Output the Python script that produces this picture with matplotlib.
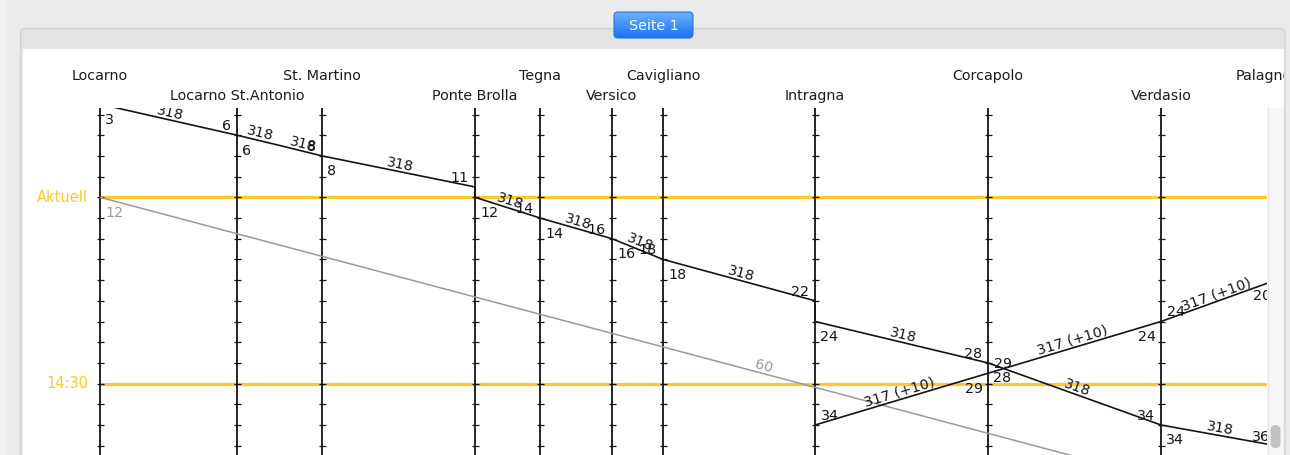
import math
import numpy as np
import matplotlib
matplotlib.use("Agg")
import matplotlib.pyplot as plt
from matplotlib.patches import Rectangle, FancyBboxPatch
from matplotlib.transforms import blended_transform_factory

# ---------------- data ----------------
stations = ["Locarno", "Locarno St.Antonio", "Solduno", "St. Martino", "Ponte Brolla",
            "Tegna", "Versico", "Cavigliano", "Intragna", "Corcapolo", "Verdasio",
            "Palagnedra", "Camedo"]
station_pos = [100, 237, 280, 322, 475, 540, 612, 663, 815, 988, 1161, 1276, 1424]
station_shown = [True, True, False, True, True, True, True, True, True, True, True, True, False]

# train 318 (towards Camedo), minutes after 14:00
t318_stops = ["Locarno", "Locarno St.Antonio", "Solduno", "St. Martino", "Ponte Brolla", "Tegna",
              "Versico", "Cavigliano", "Intragna", "Corcapolo", "Verdasio", "Palagnedra"]
t318_arr = [None, 6, 7, 8, 11, 14, 16, 18, 22, 28, 34, 36]
t318_dep = [3, 6, 7, 8, 12, 14, 16, 18, 24, 28, 34, None]

# train 317 (towards Locarno), delayed +10
t317_stops = ["Palagnedra", "Verdasio", "Corcapolo", "Intragna"]
t317_arr = [None, 24, 29, 34]
t317_dep = [20, 24, 29, None]

# train 60 (grey)
t60_stops = ["Locarno", "Camedo"]
t60_arr = [None, 46]
t60_dep = [12, None]

marker_labels = ["Aktuell", "14:30"]
marker_minutes = [12, 30]

page_label = "Seite 1"

# ---------------- layout ----------------
W, H, DPI = 1290, 455, 100
PX_PER_MIN = 10.35
Y_REF_PX, M_REF = 197.3, 12
PLOT_TOP, PLOT_L, PLOT_R = 108, 23, 1267
FS = 10.3
GOLD = "#fcc82a"
INK = "#141414"
GREY = "#9a9a9a"

m_top = M_REF - (Y_REF_PX - PLOT_TOP) / PX_PER_MIN
m_bot = M_REF + (H - Y_REF_PX) / PX_PER_MIN
pos = dict(zip(stations, station_pos))
shown = dict(zip(stations, station_shown))

fig = plt.figure(figsize=(W / DPI, H / DPI), dpi=DPI)

# ---- window chrome (background) ----
bg = fig.add_axes([0, 0, 1, 1])
bg.axis("off")
bg.add_patch(Rectangle((0, 0), W, H, color="#ececec"))
bg.add_patch(Rectangle((0, 0), 6, H, color="#f2f2f2"))
bg.add_patch(FancyBboxPatch((20.5, 28.5), 1265, 470, boxstyle="round,pad=0,rounding_size=5",
                            fc="#e3e3e3", ec="#d3d3d3", lw=1))
bg.add_patch(Rectangle((23, 49), 1261, 430, color="white"))
btn = FancyBboxPatch((614, 12), 79, 26, boxstyle="round,pad=0,rounding_size=4",
                     fc="none", ec="#2a74e0", lw=0.8, zorder=3)
bg.add_patch(btn)
grad = np.linspace(0, 1, 64)[:, None]
c_top = np.array([0.42, 0.70, 1.0])
c_bot = np.array([0.10, 0.44, 0.95])
img = c_top[None, None, :] * (1 - grad[..., None]) + c_bot[None, None, :] * grad[..., None]
img = np.repeat(img, 4, axis=1)
im = bg.imshow(img, extent=[614, 693, 38, 12], origin="upper", aspect="auto", zorder=2)
im.set_clip_path(btn)
bg.text(653.5, 25.5, page_label, ha="center", va="center", color="white", fontsize=10.3, zorder=4)
bg.set_xlim(0, W)
bg.set_ylim(H, 0)

# ---- plot area ----
ax = fig.add_axes([PLOT_L / W, 0, (PLOT_R - PLOT_L) / W, (H - PLOT_TOP) / H])
ax.set_xlim(PLOT_L, PLOT_R)
ax.set_ylim(m_bot, m_top)
ax.axis("off")

P2PT = 72.0 / DPI  # pixels -> points

# station lines + ticks
tick_minutes = np.arange(4, 37, 2)
for name in stations:
    if not shown[name]:
        continue
    x = pos[name]
    ax.vlines(x, m_bot, m_top, color=INK, lw=1.3, zorder=2)
    ax.plot(np.full(len(tick_minutes), x), tick_minutes, ls="none", marker="_",
            ms=7 * P2PT, mew=0.9, color=INK, zorder=2)

# station names (two alternating rows), drawn in the plot axes so the overlay can cut them
name_tr = blended_transform_factory(ax.transData, fig.transFigure)
row = 0
for name in stations:
    if not shown[name]:
        continue
    y_px = 80 if row == 0 else 100
    ax.text(pos[name], 1 - y_px / H, name, transform=name_tr, ha="center", va="baseline",
            fontsize=FS, color="#1c1c1c", clip_on=False)
    row = 1 - row

# time marker lines
ax.hlines(marker_minutes, station_pos[0], PLOT_R, color=GOLD, lw=2.3, zorder=1)
for lab, m in zip(marker_labels, marker_minutes):
    ax.text(88, m, lab, ha="right", va="center", color=GOLD, fontsize=10.5)


def fmt(v):
    return f"{v:g}"


def draw_train(stops, arr, dep, color, seg_label, lw):
    xs, ys = [], []
    for s, a, d in zip(stops, arr, dep):
        if a is not None:
            xs.append(pos[s]); ys.append(a)
        if d is not None:
            xs.append(pos[s]); ys.append(d)
    ax.plot(xs, ys, color=color, lw=lw, zorder=3, solid_capstyle="butt")
    direc = 1 if pos[stops[-1]] > pos[stops[0]] else -1
    # stop labels
    for s, a, d in zip(stops, arr, dep):
        if not shown[s]:
            continue
        x = pos[s]
        if a is not None:
            ax.annotate(fmt(a), (x, a), xytext=(-6 * direc * P2PT, 5 * P2PT),
                        textcoords="offset points", ha="right" if direc > 0 else "left",
                        va="baseline", fontsize=FS, color=color, zorder=4,
                        annotation_clip=False, clip_on=True)
        if d is not None:
            ax.annotate(fmt(d), (x, d), xytext=(5 * direc * P2PT, -8.5 * P2PT),
                        textcoords="offset points", ha="left" if direc > 0 else "right",
                        va="top", fontsize=FS, color=color, zorder=4,
                        annotation_clip=False, clip_on=True)
    # segment labels
    for i in range(len(stops) - 1):
        x0, y0 = pos[stops[i]], dep[i]
        x1, y1 = pos[stops[i + 1]], arr[i + 1]
        p0 = ax.transData.transform((x0, y0))
        p1 = ax.transData.transform((x1, y1))
        ang = math.degrees(math.atan2(p1[1] - p0[1], p1[0] - p0[0]))
        if ang > 90:
            ang -= 180
        elif ang < -90:
            ang += 180
        r = math.radians(ang)
        off = 3.0
        nx, ny = -math.sin(r) * off, math.cos(r) * off
        ax.annotate(seg_label, ((x0 + x1) / 2, (y0 + y1) / 2), xytext=(nx * P2PT, ny * P2PT),
                    textcoords="offset points", ha="center", va="baseline", rotation=ang,
                    rotation_mode="anchor", fontsize=FS, color=color, zorder=4,
                    annotation_clip=False, clip_on=True)


draw_train(t60_stops, t60_arr, t60_dep, GREY, "60", 1.1)
draw_train(t318_stops, t318_arr, t318_dep, INK, "318", 1.2)
draw_train(t317_stops, t317_arr, t317_dep, INK, "317 (+10)", 1.2)

# ---- overlay chrome (scrollbar, right border) ----
ov = fig.add_axes([0, 0, 1, 1])
ov.axis("off")
ov.set_xlim(0, W)
ov.set_ylim(H, 0)
ov.add_patch(Rectangle((PLOT_R, PLOT_TOP), 1284 - PLOT_R, H - PLOT_TOP, fc="#f7f7f7", ec="none"))
ov.plot([PLOT_R + 0.5, PLOT_R + 0.5], [PLOT_TOP, H], color="#e4e4e4", lw=0.8)
ov.add_patch(FancyBboxPatch((1270.5, 425), 10, 23, boxstyle="round,pad=0,rounding_size=5",
                            fc="#c2c2c2", ec="none"))
ov.add_patch(Rectangle((1284, 45), 2, 430, color="#dadada"))
ov.add_patch(Rectangle((1286, 30), 4, 430, color="#ececec"))

fig.savefig("out.png", dpi=DPI)
